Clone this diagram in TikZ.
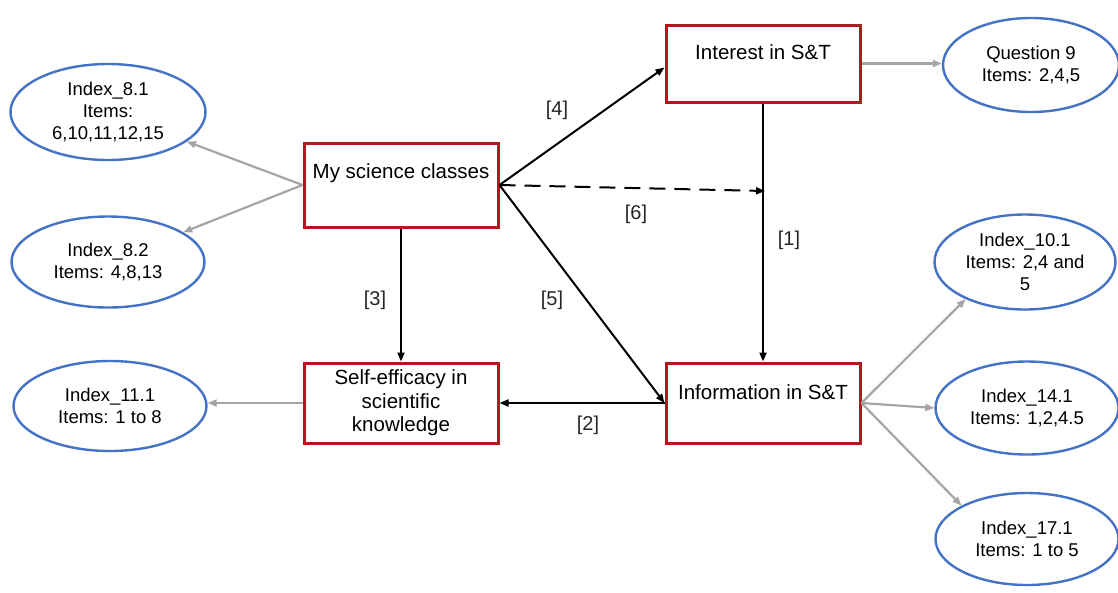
\documentclass[tikz,border=0pt]{standalone}
\usepackage{fontspec}
\setmainfont{Liberation Sans}
\usetikzlibrary{arrows.meta,shapes.geometric,calc}
\definecolor{boxred}{RGB}{178,24,30}
\definecolor{ellblue}{RGB}{68,114,196}
\definecolor{linkgray}{RGB}{165,165,165}
\begin{document}
\begin{tikzpicture}[x=1pt,y=-1pt,
  box/.style={draw=boxred, line width=3pt, minimum width=194pt, inner sep=0pt},
  boxtext/.style={font=\fontsize{20.5}{23.5}\selectfont, align=center, inner sep=0pt},
  measure/.style={draw=ellblue, line width=2.4pt, ellipse, inner sep=0pt,
    font=\fontsize{18.5}{22}\selectfont, align=center},
  causal/.style={draw=black, line width=2pt, -{Triangle[length=9pt,width=7pt]}},
  loading/.style={draw=linkgray, line width=2.2pt, -{Triangle[length=9pt,width=7pt]}},
  tag/.style={font=\fontsize{20}{22}\selectfont, text=black!85, inner sep=0pt}
]
\useasboundingbox (0,0) rectangle (1118,592);

% latent constructs
\node[box, minimum height=84pt] (msc) at (401,185) {};
\node[boxtext] (msct) at (401,173) {My science classes};
\node[box, minimum height=77pt] (int) at (763,63.5) {};
\node[boxtext] (intt) at (763,52) {Interest in S\&T};
\node[box, minimum height=80pt] (inf) at (763,403) {};
\node[boxtext] (inft) at (763,392) {Information in S\&T};
\node[box, minimum height=80pt] (se) at (401,403) {};
\node[boxtext] (set) at (401,403) {Self-efficacy in\\scientific\\knowledge};

% observed indicators
\node[measure, minimum width=195pt, minimum height=96pt] (e81) at (108,112) {Index\_8.1\\Items:\\6,10,11,12,15};
\node[measure, minimum width=193pt, minimum height=91pt] (e82) at (108,262) {Index\_8.2\\Items: 4,8,13};
\node[measure, minimum width=193pt, minimum height=90pt] (e111) at (110,406) {Index\_11.1\\Items: 1 to 8};
\node[measure, minimum width=176pt, minimum height=94pt] (q9) at (1031,65) {Question 9\\Items: 2,4,5};
\node[measure, minimum width=181pt, minimum height=95pt] (e101) at (1025,262) {Index\_10.1\\Items: 2,4 and\\5};
\node[measure, minimum width=183pt, minimum height=93pt] (e141) at (1027,408) {Index\_14.1\\Items: 1,2,4.5};
\node[measure, minimum width=183pt, minimum height=92pt] (e171) at (1027,539) {Index\_17.1\\Items: 1 to 5};

% measurement links
\draw[loading] (msc.west) -- (e81);
\draw[loading] (msc.west) -- (e82);
\draw[loading] (se.west) -- (e111.east |- se.west);
\draw[loading] (int.east) -- (q9.west |- int.east);
\draw[loading] (inf.east) -- (e101.212);
\draw[loading] (inf.east) -- (e141.west);
\draw[loading] (inf.east) -- (e171.153);

% structural paths
\coordinate (d6) at (765,191);
\draw[causal] (msc.east) -- ($(int.west)+(0,4)$);
\draw[causal] (msc.east) -- (inf.west);
\draw[causal, dash pattern=on 16pt off 9pt] (msc.east) -- (d6);
\draw[causal] (int.south) -- (inf.north);
\draw[causal] (msc.south) -- (se.north);
\draw[causal] (inf.west) -- (se.east);

% path labels
\node[tag] (l4) at (557,110) {[4]};
\node[tag] (l6) at (636,214) {[6]};
\node[tag] (l1) at (789,240) {[1]};
\node[tag] (l3) at (375,300) {[3]};
\node[tag] (l5) at (552,300) {[5]};
\node[tag] (l2) at (588,425) {[2]};
\end{tikzpicture}
\end{document}
